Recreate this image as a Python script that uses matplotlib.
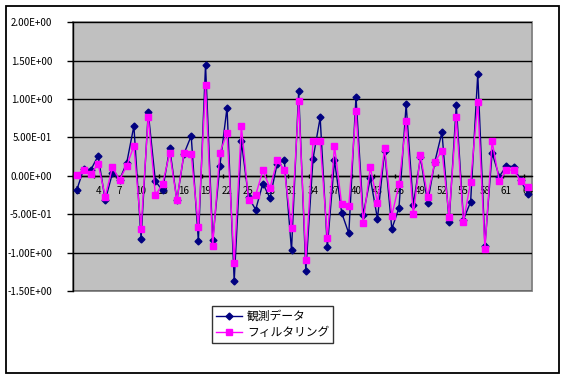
# -*- coding: utf-8 -*-

import numpy as np
import matplotlib
matplotlib.use('Agg')
import matplotlib.pyplot as plt
from matplotlib.patches import Rectangle
from matplotlib.ticker import FormatStrFormatter, FixedLocator

plt.rcParams['font.family'] = ['Noto Sans CJK JP', 'DejaVu Sans']

# data
steps = list(range(1, 65))
observed = [-0.19, 0.09, 0.08, 0.26, -0.32, 0.035, -0.05, 0.17, 0.65, -0.82,
            0.83, -0.07, -0.19, 0.36, -0.32, 0.29, 0.52, -0.85, 1.45, -0.84,
            0.13, 0.89, -1.37, 0.45, -0.28, -0.44, -0.10, -0.29, 0.16, 0.20,
            -0.97, 1.10, -1.24, 0.22, 0.76, -0.93, 0.20, -0.48, -0.75, 1.03,
            -0.51, -0.03, -0.56, 0.33, -0.69, -0.42, 0.93, -0.38, 0.24, -0.35,
            0.18, 0.57, -0.60, 0.92, -0.57, -0.34, 1.33, -0.91, 0.30, -0.01,
            0.13, 0.12, -0.06, -0.24]
filtered = [0.01, 0.08, 0.02, 0.16, -0.27, 0.11, -0.05, 0.13, 0.39, -0.69,
            0.77, -0.25, -0.11, 0.30, -0.32, 0.30, 0.28, -0.67, 1.18, -0.91,
            0.30, 0.56, -1.13, 0.65, -0.31, -0.25, 0.07, -0.16, 0.20, 0.08,
            -0.68, 0.97, -1.09, 0.45, 0.45, -0.81, 0.39, -0.37, -0.39, 0.85,
            -0.61, 0.11, -0.35, 0.36, -0.52, -0.11, 0.71, -0.50, 0.27, -0.27,
            0.18, 0.33, -0.53, 0.76, -0.60, -0.08, 0.96, -0.95, 0.45, -0.07,
            0.07, 0.08, -0.07, -0.14]
label_steps = list(range(1, 65, 3))
y_ticks = [-1.5, -1.0, -0.5, 0.0, 0.5, 1.0, 1.5, 2.0]
series_names = ['観測データ', 'フィルタリング']


def main():
    fig = plt.figure(figsize=(5.66, 3.79), dpi=100)
    # outer chart border
    fig.patches.append(Rectangle((6 / 566, 1 - 373 / 379), 553 / 566, 367 / 379,
                                 transform=fig.transFigure, fill=False,
                                 edgecolor='black', linewidth=1.3))

    ax = fig.add_axes([73 / 566, 1 - 291 / 379, 458.5 / 566, 268.7 / 379])
    ax.set_facecolor('#c0c0c0')

    for y in y_ticks:
        ax.axhline(y, color='black', linewidth=1, zorder=1)

    ax.plot(steps, observed, color='#000080', marker='D', markersize=3.5,
            linewidth=1, label=series_names[0], zorder=3)
    ax.plot(steps, filtered, color='#ff00ff', marker='s', markersize=4.5,
            linewidth=1, label=series_names[1], zorder=4)

    ax.set_xlim(0.5, 64.5)
    ax.set_ylim(-1.5, 2.0)

    ax.yaxis.set_major_locator(FixedLocator(y_ticks))
    ax.yaxis.set_major_formatter(FormatStrFormatter('%.2E'))
    ax.tick_params(axis='y', labelsize=7, length=4, width=1, direction='out', pad=11)

    ax.set_xticks(label_steps)
    ax.set_xticklabels([str(s) for s in label_steps])
    ax.tick_params(axis='x', labelsize=7, length=0, pad=7)
    ax.set_xticks([s - 0.5 for s in range(1, 66, 3)], minor=True)
    ax.tick_params(axis='x', which='minor', length=3, width=1, direction='inout')

    for side in ['top', 'right']:
        ax.spines[side].set_visible(False)
    ax.spines['bottom'].set_position(('data', 0))
    ax.spines['bottom'].set_linewidth(1)
    ax.spines['left'].set_linewidth(1)
    ax.spines['bottom'].set_zorder(2)

    # grey plot-area border
    ax.add_patch(Rectangle((0, 0), 1, 1, transform=ax.transAxes, fill=False,
                           edgecolor='#808080', linewidth=1.3, zorder=0.5,
                           clip_on=False))

    leg = fig.legend(loc='lower left', bbox_to_anchor=(212 / 566, 1 - 343 / 379),
                     fontsize=8.5, frameon=True, fancybox=False, edgecolor='black',
                     handlelength=2.2, handletextpad=0.4, borderpad=0.35,
                     labelspacing=0.25, borderaxespad=0)
    leg.get_frame().set_linewidth(1)

    fig.savefig('out.png', dpi=100)


if __name__ == '__main__':
    main()
